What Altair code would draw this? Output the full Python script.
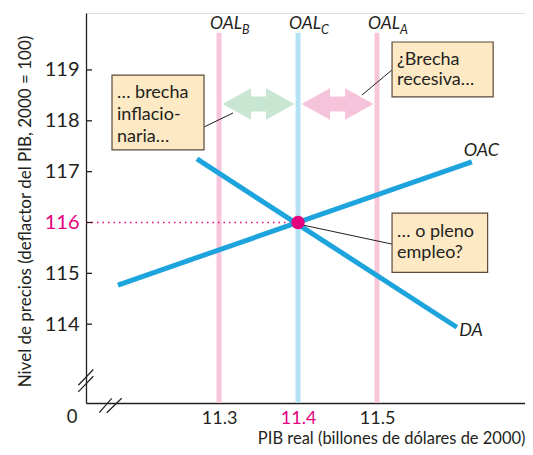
import altair as alt
import pandas as pd

FONT = "Lato"
DARK = "#231f20"
MAG = "#e5007d"
BLUE = "#1ea4dc"

# ---- axes ----
x_ticks = [11.3, 11.4, 11.5]
y_ticks = [114, 115, 116, 117, 118, 119]
x_domain = [11.1316, 11.6873]
y_domain = [112.45, 120.12]

# ---- long-run aggregate supply (OAL) ----
oal_x = [11.3, 11.4, 11.5]
oal_sub = ["B", "C", "A"]
oal_color = ["#f7c6da", "#b5e1f5", "#f7c6da"]
oal_top = 119.73
oal_label_y = 119.906

# ---- OAC and DA ----
oac_x = [11.172, 11.620]
oac_y = [114.77, 117.19]
da_x = [11.272, 11.601]
da_y = [117.25, 113.94]
eq_x, eq_y = 11.4, 116.0
curve_labels = ["OAC", "DA"]
curve_label_x = [11.632, 11.619]
curve_label_y = [117.41, 113.86]

# ---- gap arrows ----
arrow_x = [11.35, 11.45]
arrow_y = [118.33, 118.33]
arrow_color = ["#c8e6d2", "#f6c4da"]

# ---- annotation boxes ----
box_x1 = [11.1645, 11.519, 11.519]
box_x2 = [11.281, 11.647, 11.640]
box_y1 = [118.90, 119.55, 116.185]
box_y2 = [117.43, 118.47, 115.02]
box_lines = [["… brecha", "inflacio-", "naria…"], ["¿Brecha", "recesiva…"], ["… o pleno", "empleo?"]]
box_line_y = [[118.547, 118.114, 117.681], [119.197, 118.803], [115.811, 115.398]]
lead_x1 = [11.281, 11.519, 11.519]
lead_y1 = [117.878, 119.0, 115.575]
lead_x2 = [11.3177, 11.481, 11.4063]
lead_y2 = [118.154, 118.508, 115.949]

# ---- axis breaks ----
break_x = [11.1316, 11.162]
break_y = [112.878, 112.45]
break_shape = ["M-0.77,0.4L0.73,-1.17M-0.77,1.07L0.73,-0.5",
               "M-1.07,0.97L0.17,-0.47M-0.33,0.97L1.17,-0.47"]

ARROW = "M-1,0L-0.21,-0.44L-0.21,-0.21L0.21,-0.21L0.21,-0.44L1,0L0.21,0.44L0.21,0.21L-0.21,0.21L-0.21,0.44Z"

W, H = 439, 390
xs = alt.Scale(domain=x_domain, nice=False, zero=False)
ys = alt.Scale(domain=y_domain, nice=False, zero=False)
x_axis = alt.Axis(values=x_ticks, format=".1f", tickSize=0, labelPadding=6, labelFontSize=18,
                  labelColor=alt.condition("datum.value == 11.4", alt.value(MAG), alt.value(DARK)),
                  domainColor=DARK, domainWidth=1.3, grid=False,
                  titleFontSize=16.5, titleFontWeight="normal", titleColor=DARK,
                  titleX=W, titleY=40, titleAlign="right", titleBaseline="alphabetic")
y_axis = alt.Axis(values=y_ticks, format="d", tickSize=0, labelPadding=7, labelFontSize=20,
                  labelColor=alt.condition("datum.value == 116", alt.value(MAG), alt.value(DARK)),
                  domainColor=DARK, domainWidth=1.3, grid=False,
                  titleFontSize=17, titleFontWeight="normal", titleColor=DARK,
                  titleX=-61, titleY=198, titleAngle=-90, titleAlign="center", titleBaseline="middle")
XT = "PIB real (billones de dólares de 2000)"
YT = "Nivel de precios (deflactor del PIB, 2000 = 100)"


def X(f):
    return alt.X(f, type="quantitative", scale=xs, axis=x_axis, title=XT)


def Y(f):
    return alt.Y(f, type="quantitative", scale=ys, axis=y_axis, title=YT)


# data frames
oal_df = pd.DataFrame({"x": oal_x, "y": [y_domain[0]] * 3, "y2": [oal_top] * 3,
                       "c": oal_color, "sub": oal_sub, "ly": [oal_label_y] * 3})
oac_df = pd.DataFrame({"x": oac_x, "y": oac_y})
da_df = pd.DataFrame({"x": da_x, "y": da_y})
eq_df = pd.DataFrame({"x": [eq_x], "y": [eq_y], "x0": [x_domain[0]]})
arr_df = pd.DataFrame({"x": arrow_x, "y": arrow_y, "c": arrow_color})
box_df = pd.DataFrame({"x": box_x1, "x2": box_x2, "y": box_y1, "y2": box_y2})
txt_rows = []
for i, lines in enumerate(box_lines):
    for j, t in enumerate(lines):
        txt_rows.append({"x": box_x1[i], "y": box_line_y[i][j], "t": t})
txt_df = pd.DataFrame(txt_rows)
lead_df = pd.DataFrame({"x": lead_x1, "y": lead_y1, "x2": lead_x2, "y2": lead_y2})
cl_df = pd.DataFrame({"x": curve_label_x, "y": curve_label_y, "t": curve_labels})
tick_df = pd.DataFrame({"y": y_ticks})
brk_df = pd.DataFrame({"x": break_x, "y": break_y, "s": break_shape})
zero_df = pd.DataFrame({"x": [x_domain[0]], "y": [y_domain[0]], "t": ["0"]})

oal = alt.Chart(oal_df).mark_rule(strokeWidth=5).encode(
    x=X("x"), y=Y("y"), y2="y2", color=alt.Color("c:N", scale=None))
oal_lab = alt.Chart(oal_df).mark_text(font=FONT, fontSize=17.5, fontStyle="italic", align="right",
                                       baseline="middle", dx=23, color=DARK).encode(
    x=X("x"), y=Y("ly"), text=alt.value("OAL"))
oal_subl = alt.Chart(oal_df).mark_text(font=FONT, fontSize=12.5, fontStyle="italic", align="left",
                                        baseline="middle", dx=23, dy=6, color=DARK).encode(
    x=X("x"), y=Y("ly"), text="sub:N")
arrows = alt.Chart(arr_df).mark_point(shape=ARROW, size=5184, filled=True, opacity=1, strokeWidth=0).encode(
    x=X("x"), y=Y("y"), fill=alt.Fill("c:N", scale=None))
dotted = alt.Chart(eq_df).mark_rule(color=MAG, strokeWidth=1.6, strokeDash=[1.5, 4]).encode(
    x=X("x0"), x2="x", y=Y("y"))
oac = alt.Chart(oac_df).mark_line(color=BLUE, strokeWidth=5, strokeCap="butt").encode(x=X("x"), y=Y("y"))
da = alt.Chart(da_df).mark_line(color=BLUE, strokeWidth=5, strokeCap="butt").encode(x=X("x"), y=Y("y"))
leaders = alt.Chart(lead_df).mark_rule(color=DARK, strokeWidth=1).encode(
    x=X("x"), y=Y("y"), x2="x2", y2="y2")
eq = alt.Chart(eq_df).mark_point(shape="circle", size=180, filled=True, color=MAG, opacity=1).encode(
    x=X("x"), y=Y("y"))
boxes = alt.Chart(box_df).mark_rect(fill="#fde9c4", stroke="#5b4a3b", strokeWidth=1.2).encode(
    x=X("x"), x2="x2", y=Y("y"), y2="y2")
btxt = alt.Chart(txt_df).mark_text(font=FONT, fontSize=18, align="left", baseline="middle",
                                    dx=5, color=DARK).encode(x=X("x"), y=Y("y"), text="t:N")
clab = alt.Chart(cl_df).mark_text(font=FONT, fontSize=18, fontStyle="italic", align="center",
                                   baseline="middle", color=DARK).encode(x=X("x"), y=Y("y"), text="t:N")
ticks = alt.Chart(tick_df).mark_rule(color=DARK, strokeWidth=1.3).encode(
    x=alt.value(0), x2=alt.value(6), y=Y("y"))
brk = alt.Chart(brk_df).mark_point(size=400, filled=False, color=DARK, strokeWidth=1.2, opacity=1).encode(
    x=X("x"), y=Y("y"), shape=alt.Shape("s:N", scale=None))
zero = alt.Chart(zero_df).mark_text(font=FONT, fontSize=18.5, align="center", baseline="middle",
                                     dx=-14, dy=14, color=DARK).encode(x=X("x"), y=Y("y"), text="t:N")

chart = alt.layer(oal, oal_lab, oal_subl, arrows, dotted, oac, da, leaders, eq, boxes, btxt, clab,
                  ticks, brk, zero).properties(
    width=W, height=H,
    padding={"left": 78, "top": 5, "right": 0, "bottom": 44},
    autosize=alt.AutoSizeParams(type="none"),
).configure_view(stroke=None).configure(font=FONT)

chart.save("out.html", embed_options={"renderer": "svg", "actions": False})
